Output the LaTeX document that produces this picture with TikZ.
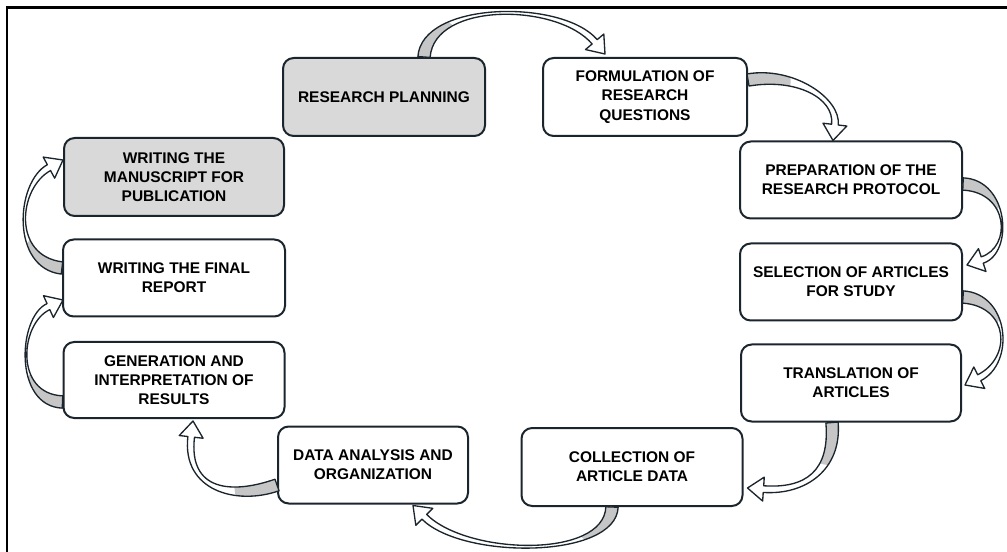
\documentclass[tikz,border=0pt]{standalone}
\usepackage{fontspec}
\setmainfont{Liberation Sans}
\usetikzlibrary{calc}
\definecolor{edge}{HTML}{1B252D}
\definecolor{boxgray}{HTML}{D9D9D9}
\definecolor{arrgray}{HTML}{C6C6C6}
\newcommand\bwA{4.6pt}
\newcommand\bwB{2.5pt}
\newcommand\bhw{9pt}
\newcommand\bhl{12pt}
% #1 start, #2 control 1, #3 control 2, #4 tip
\newcommand\bandarrow[4]{%
  \coordinate (q0) at #1; \coordinate (q1) at #2; \coordinate (q2) at #3; \coordinate (qt) at #4;
  \coordinate (q3) at ($(qt)!\bhl!(q2)$);
  \coordinate (a0) at ($(q0)!\bwA!90:(q1)$);
  \coordinate (a1) at ($(q1)!\bwA!-90:(q0)$);
  \coordinate (a2) at ($(q2)!\bwB!90:(q3)$);
  \coordinate (a3) at ($(q3)!\bwB!-90:(q2)$);
  \coordinate (ha) at ($(q3)!\bhw!-90:(q2)$);
  \coordinate (hb) at ($(q3)!\bhw!90:(q2)$);
  \coordinate (b3) at ($(q3)!\bwB!90:(q2)$);
  \coordinate (b2) at ($(q2)!\bwB!-90:(q3)$);
  \coordinate (b1) at ($(q1)!\bwA!90:(q0)$);
  \coordinate (b0) at ($(q0)!\bwA!-90:(q1)$);
  \fill[white] (a0) .. controls (a1) and (a2) .. (a3) -- (ha) -- (qt) -- (hb) -- (b3) .. controls (b2) and (b1) .. (b0) -- cycle;
  \begin{scope}
    \clip (q0) circle[radius=32pt];
    \fill[arrgray] (a0) .. controls (a1) and (a2) .. (a3) -- (ha) -- (qt) -- (hb) -- (b3) .. controls (b2) and (b1) .. (b0) -- cycle;
  \end{scope}
  \draw[arrowline] (a0) .. controls (a1) and (a2) .. (a3) -- (ha) -- (qt) -- (hb) -- (b3) .. controls (b2) and (b1) .. (b0) -- cycle;
}
\tikzset{
  stepbox/.style={draw=edge, line width=1.5pt, rounded corners=8pt, fill=white, align=center,
    font=\bfseries\fontsize{11.6}{14.4}\selectfont, inner sep=2pt, text=black},
  graybox/.style={stepbox, fill=boxgray},
  sz/.style 2 args={minimum width=#1*0.75pt, minimum height=#2*0.75pt},
  arrowline/.style={draw=edge, line width=1pt, line join=round},
  frame/.style={draw=black, line width=1.6pt}
}
\begin{document}
\begin{tikzpicture}[x=0.75pt, y=-0.75pt]
\useasboundingbox (0,0) rectangle (1007,552);
\coordinate (fbl) at (7,552);
\coordinate (ftl) at (7,7.5);
\coordinate (ftr) at (1007,7.5);
\draw[frame] (fbl) -- (ftl) -- (ftr);

\node[graybox, sz={202}{78}] (rp) at (384,97) {RESEARCH PLANNING};
\node[stepbox, sz={204}{78}] (fq) at (645,97) {FORMULATION OF\\RESEARCH\\QUESTIONS};
\node[stepbox, sz={222}{77}] (prep) at (851,180) {PREPARATION OF THE\\RESEARCH PROTOCOL};
\node[stepbox, sz={222}{77}] (sel) at (851,282) {SELECTION OF ARTICLES\\FOR STUDY};
\node[stepbox, sz={220}{77}] (trans) at (851,383) {TRANSLATION OF\\ARTICLES};
\node[stepbox, sz={221}{78}] (coll) at (632,467) {COLLECTION OF\\ARTICLE DATA};
\node[stepbox, sz={190}{77}] (da) at (373,465) {DATA ANALYSIS AND\\ORGANIZATION};
\node[stepbox, sz={221}{76}] (gen) at (174,380) {GENERATION AND\\INTERPRETATION OF\\RESULTS};
\node[stepbox, sz={222}{77}] (wfr) at (174,278) {WRITING THE FINAL\\REPORT};
\node[graybox, sz={220}{78}] (wm) at (174,177) {WRITING THE\\MANUSCRIPT FOR\\PUBLICATION};

% rp -> fq
\bandarrow{($(rp.north)+(40,0)$)}{($(rp.north)+(44,-56)$)}{($(fq.north)+(-85,-56)$)}{($(fq.north)+(-40,-3)$)}
% fq -> prep
\bandarrow{($(fq.east)+(0,-17)$)}{($(fq.east)+(47,-25)$)}{($(prep.north)+(-13,-42)$)}{($(prep.north)+(-18,0)$)}
% prep -> sel
\bandarrow{($(prep.east)+(0,4)$)}{($(prep.east)+(46,6)$)}{($(sel.east)+(50,-32)$)}{($(sel.east)+(4,-17)$)}
% sel -> trans
\bandarrow{($(sel.east)+(0,15)$)}{($(sel.east)+(46,18)$)}{($(trans.east)+(52,-23)$)}{($(trans.east)+(3,2)$)}
% trans -> coll
\bandarrow{($(trans.south)+(-19,0)$)}{($(trans.south)+(-15,48)$)}{($(coll.east)+(62,25)$)}{($(coll.east)+(4,21)$)}
% coll -> da
\bandarrow{($(coll.south)+(-20,0)$)}{($(coll.south)+(-22,52)$)}{($(da.south)+(92,53)$)}{($(da.south)+(40,1)$)}
% da -> gen
\bandarrow{($(da.west)+(0,20)$)}{($(da.west)+(-43,35)$)}{($(gen.south)+(11,72)$)}{($(gen.south)+(19,2)$)}
% gen -> wfr
\bandarrow{($(gen.west)+(0,22)$)}{($(gen.west)+(-49,20)$)}{($(wfr.west)+(-43,42)$)}{($(wfr.west)+(1,22)$)}
% wfr -> wm
\bandarrow{($(wfr.west)+(0,-10)$)}{($(wfr.west)+(-51,-16)$)}{($(wm.west)+(-46,8)$)}{($(wm.west)+(0,-17)$)}
\end{tikzpicture}
\end{document}
